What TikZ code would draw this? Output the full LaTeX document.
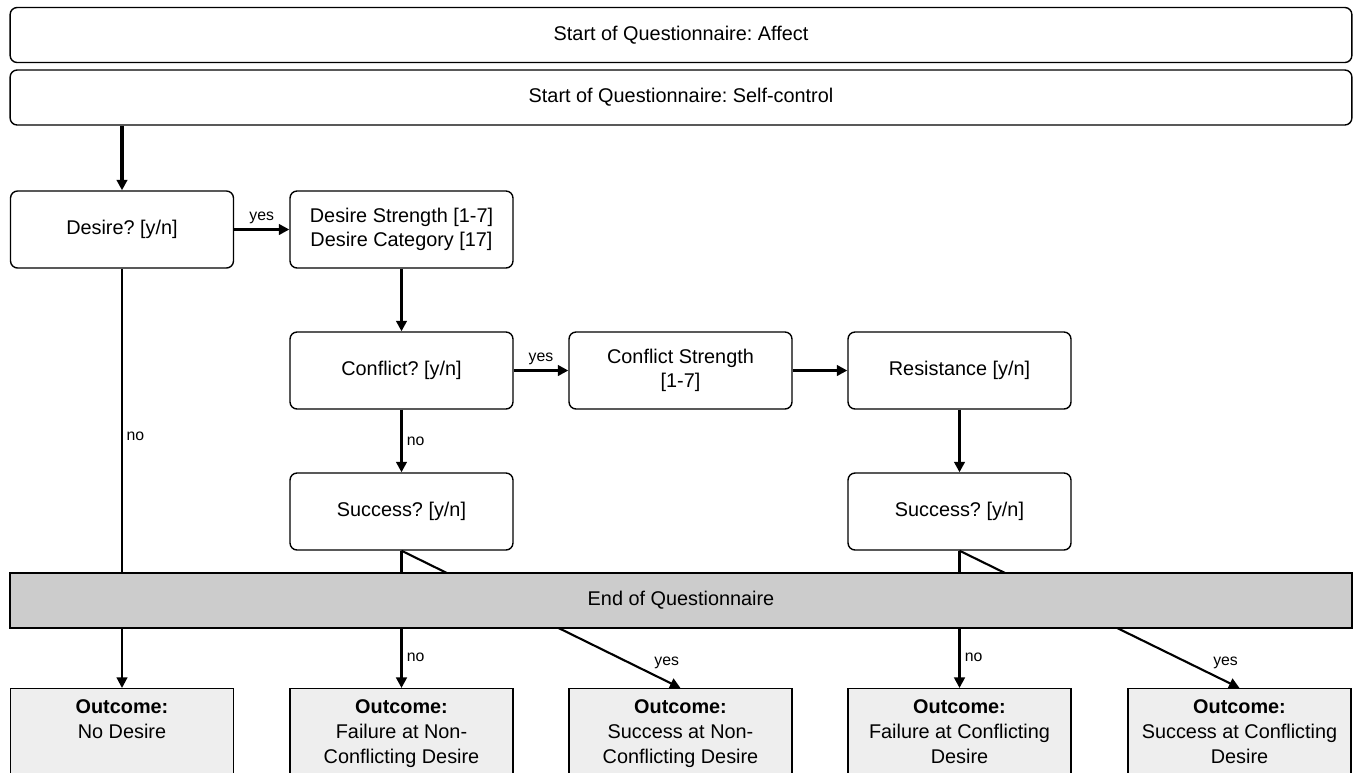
\documentclass[tikz,border=0pt]{standalone}
\usepackage{fontspec}
\setmainfont{Liberation Sans}
\usepackage{tikz}
\usepackage{xcolor}
\usetikzlibrary{arrows.meta}
\definecolor{endgray}{HTML}{CCCCCC}
\definecolor{outgray}{HTML}{EEEEEE}
\frenchspacing
\newcommand{\outcome}[1]{\begin{minipage}[t][1.8cm][t]{4.46cm}\centering\fontsize{11.3}{14.3}\selectfont\textbf{Outcome:}\\#1\end{minipage}}

\begin{document}
\begin{tikzpicture}[x=0.02cm,y=-0.02cm,every node/.style={font=\fontsize{11.3}{13.5}\selectfont},
  qbox/.style={draw,line width=0.8pt,rounded corners=4pt,minimum width=4.46cm,minimum height=1.54cm,align=center,inner sep=2pt},
  widebox/.style={draw,line width=0.8pt,rounded corners=4pt,minimum width=26.84cm,minimum height=1.1cm},
  outbox/.style={draw,line width=0.8pt,fill=outgray,anchor=north,inner xsep=0pt,inner ysep=6pt},
  endbar/.style={draw,line width=0.8pt,fill=endgray,minimum width=26.84cm,minimum height=1.1cm},
  flow/.style={line width=2pt,-{Triangle[length=6pt,width=6pt]}},
  thinflow/.style={line width=1.2pt,-{Triangle[length=6pt,width=6pt]}},
  lbl/.style={font=\fontsize{9}{11}\selectfont,inner sep=2pt}]
\useasboundingbox (0,0) rectangle (1355,772);
\clip (0,0) rectangle (1355,772);
% start of questionnaire
\node[widebox] (aff) at (681,35) {Start of Questionnaire: Affect};
\node[widebox] (sc) at (681,97.5) {Start of Questionnaire: Self-control};
% questions
\node[qbox] (des) at (122,229.5) {Desire? [y/n]};
\node[qbox] (dstr) at (401.5,229.5) {Desire Strength [1-7]\\Desire Category [17]};
\node[qbox] (con) at (401.5,370.5) {Conflict? [y/n]};
\node[qbox] (cstr) at (680.5,370.5) {Conflict Strength\\{}[1-7]};
\node[qbox] (res) at (959.5,370.5) {Resistance [y/n]};
\node[qbox] (suc1) at (401.5,511.5) {Success? [y/n]};
\node[qbox] (suc2) at (959.5,511.5) {Success? [y/n]};
% outcomes
\node[outbox] (o1) at (122,688) {\outcome{No Desire}};
\node[outbox] (o2) at (401.5,688) {\outcome{Failure at Non-\\Conflicting Desire}};
\node[outbox] (o3) at (680.5,688) {\outcome{Success at Non-\\Conflicting Desire}};
\node[outbox] (o4) at (959.5,688) {\outcome{Failure at Conflicting\\Desire}};
\node[outbox] (o5) at (1239.5,688) {\outcome{Success at Conflicting\\Desire}};
% connectors
\draw[flow] (des.north |- sc.south) -- (des.north);
\draw[flow] (des) -- node[lbl,above]{yes} (dstr);
\draw[flow] (dstr) -- (con);
\draw[flow] (con) -- node[lbl,above]{yes} (cstr);
\draw[flow] (cstr) -- (res);
\draw[flow] (con) -- node[lbl,right]{no} (suc1);
\draw[flow] (res) -- (suc2);
\draw[thinflow] (des.south) -- node[lbl,pos=0.4,right]{no} (o1.north);
\draw[flow] (suc1.south) -- node[lbl,pos=0.78,right]{no} (o2.north);
\draw[thinflow] (suc1.south) -- node[lbl,pos=0.89,above right]{yes} (o3.north);
\draw[flow] (suc2.south) -- node[lbl,pos=0.78,right]{no} (o4.north);
\draw[thinflow] (suc2.south) -- node[lbl,pos=0.89,above right]{yes} (o5.north);
% end bar on top of the lines
\node[endbar] (end) at (681,600.5) {End of Questionnaire};
\end{tikzpicture}
\end{document}
